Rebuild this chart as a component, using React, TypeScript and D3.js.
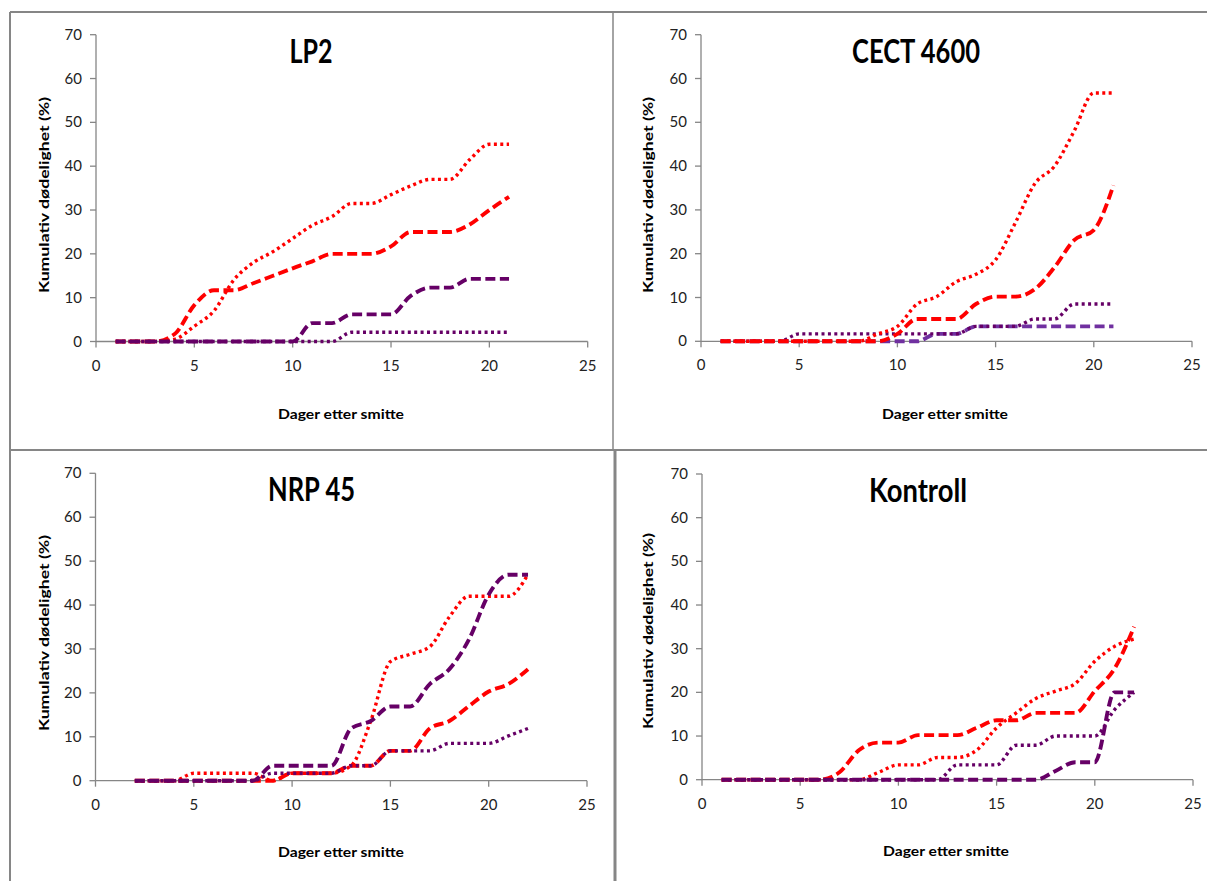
import React from 'react';
import * as d3 from 'd3';

// ---------- DATA ----------
const xTicks = [0, 5, 10, 15, 20, 25];
const yTicks = [0, 10, 20, 30, 40, 50, 60, 70];
const xAxisTitle = 'Dager etter smitte';
const yAxisTitle = 'Kumulativ dødelighet (%)';

// LP2
const lp2Days = [1, 2, 3, 4, 5, 6, 7, 8, 9, 10, 11, 12, 13, 14, 15, 16, 17, 18, 19, 20, 21];
const lp2RedDotted = [0, 0, 0, 0.5, 3.5, 7, 14, 18, 20.5, 23.5, 26.5, 28.5, 31.5, 31.5, 33.5, 35.5, 37, 37, 41.5, 45, 45];
const lp2RedDashed = [0, 0, 0, 1.7, 8.3, 11.7, 11.7, 13.3, 15, 16.7, 18.3, 20, 20, 20, 21.7, 25, 25, 25, 26.7, 30, 33];
const lp2PurpleDotted = [0, 0, 0, 0, 0, 0, 0, 0, 0, 0, 0, 0, 2.1, 2.1, 2.1, 2.1, 2.1, 2.1, 2.1, 2.1, 2.1];
const lp2PurpleDashed = [0, 0, 0, 0, 0, 0, 0, 0, 0, 0, 4.2, 4.2, 6.2, 6.2, 6.2, 10.4, 12.3, 12.3, 14.3, 14.3, 14.3];

// CECT 4600
const cectDays = [1, 2, 3, 4, 5, 6, 7, 8, 9, 10, 11, 12, 13, 14, 15, 16, 17, 18, 19, 20, 21];
const cectRedDotted = [0, 0, 0, 0, 0, 0, 0, 0, 1.7, 3.4, 8.5, 10.2, 13.6, 15.3, 18.6, 27, 36, 40, 48, 56.7, 56.7];
const cectRedDashed = [0, 0, 0, 0, 0, 0, 0, 0, 0, 1.7, 5.1, 5.1, 5.1, 8.5, 10.2, 10.2, 11.9, 16.9, 23.1, 25.4, 35.6];
const cectPurpleDotted = [0, 0, 0, 0, 1.7, 1.7, 1.7, 1.7, 1.7, 1.7, 1.7, 1.7, 1.7, 3.4, 3.4, 3.4, 5.1, 5.1, 8.5, 8.5, 8.5];
const cectPurpleDashed = [0, 0, 0, 0, 0, 0, 0, 0, 0, 0, 0, 1.7, 1.7, 3.4, 3.4, 3.4, 3.4, 3.4, 3.4, 3.4, 3.4];

// NRP 45
const nrpDays = [2, 3, 4, 5, 6, 7, 8, 9, 10, 11, 12, 13, 14, 15, 16, 17, 18, 19, 20, 21, 22];
const nrpRedDotted = [0, 0, 0, 1.7, 1.7, 1.7, 1.7, 0, 1.7, 1.7, 1.7, 3.4, 13.6, 27.1, 28.8, 30.5, 37.3, 42, 42, 42, 47];
const nrpRedDashed = [0, 0, 0, 0, 0, 0, 0, 0, 1.7, 1.7, 1.7, 3.4, 3.4, 6.8, 6.8, 11.9, 13.6, 17, 20.3, 22, 25.4];
const nrpPurpleDotted = [0, 0, 0, 0, 0, 0, 0, 1.7, 1.7, 1.7, 1.7, 3.4, 3.4, 6.8, 6.8, 6.8, 8.5, 8.5, 8.5, 10.2, 11.9];
const nrpPurpleDashed = [0, 0, 0, 0, 0, 0, 0, 3.4, 3.4, 3.4, 3.4, 11.9, 13.6, 16.9, 16.9, 22, 25.4, 32.2, 42.4, 46.9, 46.9];

// Kontroll
const konDays = [1, 2, 3, 4, 5, 6, 7, 8, 9, 10, 11, 12, 13, 14, 15, 16, 17, 18, 19, 20, 21, 22];
const konRedDotted = [0, 0, 0, 0, 0, 0, 0, 0, 1.7, 3.4, 3.4, 5.1, 5.1, 6.8, 11.9, 15.3, 18.6, 20.3, 22, 27.1, 30.5, 32.2];
const konRedDashed = [0, 0, 0, 0, 0, 0, 1.7, 6.8, 8.5, 8.5, 10.2, 10.2, 10.2, 11.9, 13.6, 13.6, 15.3, 15.3, 15.3, 20.3, 25.4, 35];
const konPurpleDotted = [0, 0, 0, 0, 0, 0, 0, 0, 0, 0, 0, 0, 3.4, 3.4, 3.4, 7.9, 7.9, 10, 10, 10, 16, 20];
const konPurpleDashed = [0, 0, 0, 0, 0, 0, 0, 0, 0, 0, 0, 0, 0, 0, 0, 0, 0, 2, 4, 4, 20, 20];

// ---------- STYLE ----------
const RED = '#FF0000';
const PURPLE = '#660066';
const LIGHT_PURPLE = '#7030A0';
const GRID = '#868686';
const FONT = 'Lato, "Open Sans", sans-serif';

type Style = { color: string; kind: 'dot' | 'dash' };
type Series = { values: number[]; style: Style };
type PanelCfg = {
  title: string;
  days: number[];
  series: Series[];
  xr: [number, number];
  yr: [number, number];
  titleX: number;
  titleY: number;
  titleW: number;
  xTitleX: number;
  xTitleY: number;
  yTitleX: number;
  yTitleY: number;
};

const panels: PanelCfg[] = [
  {
    title: 'LP2', days: lp2Days,
    series: [
      { values: lp2RedDotted, style: { color: RED, kind: 'dot' } },
      { values: lp2RedDashed, style: { color: RED, kind: 'dash' } },
      { values: lp2PurpleDotted, style: { color: PURPLE, kind: 'dot' } },
      { values: lp2PurpleDashed, style: { color: PURPLE, kind: 'dash' } },
    ],
    xr: [96, 587.7], yr: [341.5, 34.7],
    titleX: 311, titleY: 62.7, titleW: 43,
    xTitleX: 341, xTitleY: 419, yTitleX: 44, yTitleY: 195,
  },
  {
    title: 'CECT 4600', days: cectDays,
    series: [
      { values: cectPurpleDashed, style: { color: LIGHT_PURPLE, kind: 'dash' } },
      { values: cectPurpleDotted, style: { color: PURPLE, kind: 'dot' } },
      { values: cectRedDotted, style: { color: RED, kind: 'dot' } },
      { values: cectRedDashed, style: { color: RED, kind: 'dash' } },
    ],
    xr: [701, 1192], yr: [341.3, 34.7],
    titleX: 916, titleY: 62.7, titleW: 128,
    xTitleX: 945, xTitleY: 419, yTitleX: 648, yTitleY: 195,
  },
  {
    title: 'NRP 45', days: nrpDays,
    series: [
      { values: nrpRedDotted, style: { color: RED, kind: 'dot' } },
      { values: nrpRedDashed, style: { color: RED, kind: 'dash' } },
      { values: nrpPurpleDotted, style: { color: PURPLE, kind: 'dot' } },
      { values: nrpPurpleDashed, style: { color: PURPLE, kind: 'dash' } },
    ],
    xr: [95.5, 587], yr: [780.7, 473.3],
    titleX: 311.5, titleY: 500.7, titleW: 87,
    xTitleX: 341, xTitleY: 857, yTitleX: 44, yTitleY: 633,
  },
  {
    title: 'Kontroll', days: konDays,
    series: [
      { values: konRedDotted, style: { color: RED, kind: 'dot' } },
      { values: konRedDashed, style: { color: RED, kind: 'dash' } },
      { values: konPurpleDotted, style: { color: PURPLE, kind: 'dot' } },
      { values: konPurpleDashed, style: { color: PURPLE, kind: 'dash' } },
    ],
    xr: [702, 1193], yr: [779.7, 474],
    titleX: 918, titleY: 501.7, titleW: 98,
    xTitleX: 946, xTitleY: 856, yTitleX: 648, yTitleY: 631,
  },
];

function Panel({ cfg }: { cfg: PanelCfg }) {
  const x = d3.scaleLinear().domain([0, 25]).range(cfg.xr);
  const y = d3.scaleLinear().domain([0, 70]).range(cfg.yr);
  const line = d3
    .line<[number, number]>()
    .x((d) => x(d[0]))
    .y((d) => y(d[1]))
    .curve(d3.curveMonotoneX);
  const x0 = x(0);
  const y0 = y(0);
  return (
    <g>
      {/* y axis */}
      <line x1={x0} x2={x0} y1={y(70)} y2={y0} stroke={GRID} strokeWidth={1.3} />
      {yTicks.map((t) => (
        <g key={'y' + t}>
          <line x1={x0 - 6} x2={x0} y1={y(t)} y2={y(t)} stroke={GRID} strokeWidth={1.3} />
          <text x={x0 - 14} y={y(t) + 5} textAnchor="end" fontFamily={FONT} fontSize={15} fill="#222">
            {t}
          </text>
        </g>
      ))}
      {/* x axis */}
      <line x1={x0} x2={x(25)} y1={y0} y2={y0} stroke={GRID} strokeWidth={1.3} />
      {xTicks.map((t) => (
        <g key={'x' + t}>
          <line x1={x(t)} x2={x(t)} y1={y0} y2={y0 + 6} stroke={GRID} strokeWidth={1.3} />
          <text x={x(t)} y={y0 + 29} textAnchor="middle" fontFamily={FONT} fontSize={15} fill="#222">
            {t}
          </text>
        </g>
      ))}
      {/* series */}
      {cfg.series.map((s, i) => {
        const pts = cfg.days.map((d, j) => [d, s.values[j]] as [number, number]);
        const dot = s.style.kind === 'dot';
        return (
          <path
            key={i}
            d={line(pts) || ''}
            fill="none"
            stroke={s.style.color}
            strokeWidth={dot ? 3.4 : 3.9}
            strokeDasharray={dot ? '3 3.4' : '10 4.5'}
            strokeLinecap="butt"
            strokeLinejoin="round"
          />
        );
      })}
      {/* titles */}
      <text
        x={cfg.titleX}
        y={cfg.titleY}
        textAnchor="middle"
        fontFamily={FONT}
        fontWeight="bold"
        fontSize={33}
        fill="#000"
        textLength={cfg.titleW}
        lengthAdjust="spacingAndGlyphs"
      >
        {cfg.title}
      </text>
      <text
        x={cfg.xTitleX}
        y={cfg.xTitleY}
        textAnchor="middle"
        fontFamily={FONT}
        fontWeight="bold"
        fontSize={14}
        fill="#000"
        textLength={126}
        lengthAdjust="spacingAndGlyphs"
      >
        {xAxisTitle}
      </text>
      <text
        transform={`translate(${cfg.yTitleX},${cfg.yTitleY}) rotate(-90)`}
        x={0}
        y={5}
        textAnchor="middle"
        fontFamily={FONT}
        fontWeight="bold"
        fontSize={14}
        fill="#000"
        textLength={196}
        lengthAdjust="spacingAndGlyphs"
      >
        {yAxisTitle}
      </text>
    </g>
  );
}

export default function App() {
  return (
    <svg
      width={1207}
      height={881}
      style={{ position: 'absolute', left: 0, top: 0, background: '#fff' }}
    >
      <rect x={0} y={0} width={1207} height={881} fill="#fff" />
      {/* panel frames */}
      <line x1={10} x2={1207} y1={12} y2={12} stroke={GRID} strokeWidth={2} />
      <line x1={10} x2={10} y1={12} y2={881} stroke={GRID} strokeWidth={2} />
      <line x1={613} x2={613} y1={12} y2={450} stroke={GRID} strokeWidth={1.5} />
      <line x1={10} x2={1207} y1={450} y2={450} stroke={GRID} strokeWidth={2} />
      <line x1={615} x2={615} y1={450} y2={881} stroke={GRID} strokeWidth={3} />
      {panels.map((p) => (
        <Panel key={p.title} cfg={p} />
      ))}
    </svg>
  );
}
